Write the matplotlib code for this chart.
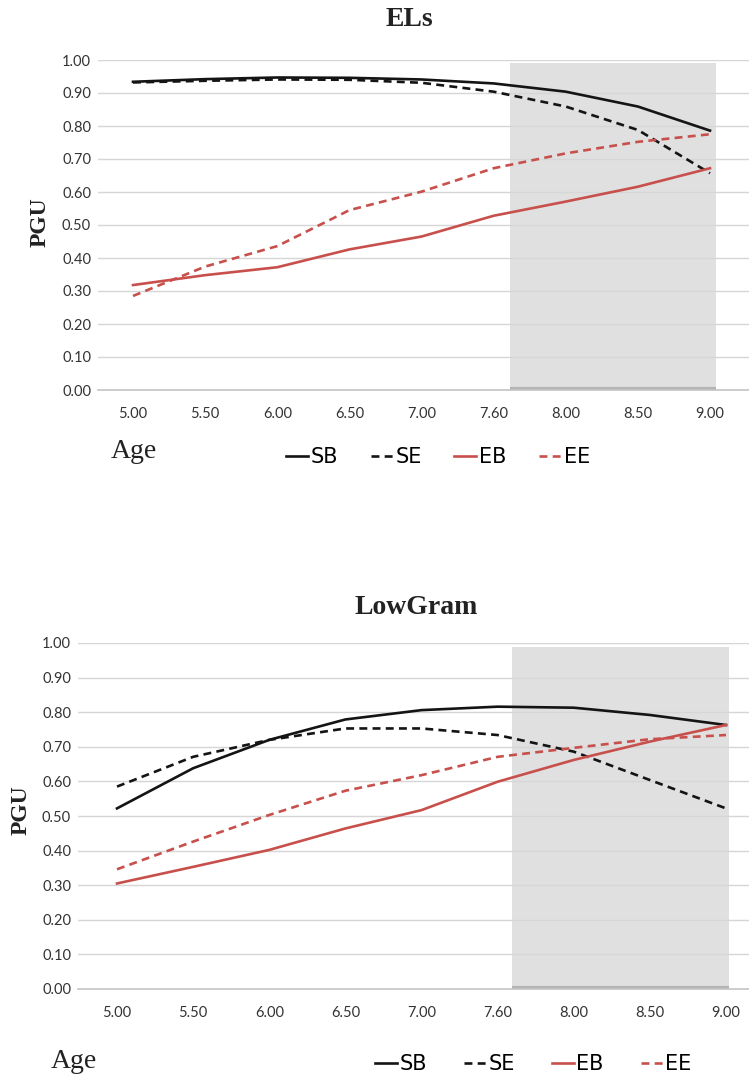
import matplotlib.pyplot as plt
from matplotlib.lines import Line2D

W, H = 749, 1077

# DATA

ages = ["5.00", "5.50", "6.00", "6.50", "7.00", "7.60", "8.00", "8.50", "9.00"]
y_ticks = [0.0, 0.1, 0.2, 0.3, 0.4, 0.5, 0.6, 0.7, 0.8, 0.9, 1.0]
series_names = ["SB", "SE", "EB", "EE"]

els_sb = [0.934, 0.942, 0.947, 0.946, 0.941, 0.929, 0.904, 0.859, 0.786]
els_se = [0.932, 0.937, 0.941, 0.940, 0.931, 0.904, 0.859, 0.788, 0.657]
els_eb = [0.318, 0.348, 0.372, 0.426, 0.465, 0.528, 0.571, 0.616, 0.672]
els_ee = [0.285, 0.374, 0.436, 0.545, 0.601, 0.672, 0.717, 0.752, 0.775]

low_sb = [0.522, 0.638, 0.720, 0.779, 0.806, 0.816, 0.813, 0.792, 0.763]
low_se = [0.585, 0.671, 0.720, 0.753, 0.753, 0.734, 0.686, 0.604, 0.522]
low_eb = [0.305, 0.353, 0.402, 0.464, 0.517, 0.599, 0.662, 0.715, 0.763]
low_ee = [0.346, 0.426, 0.503, 0.573, 0.618, 0.671, 0.697, 0.722, 0.734]

# STYLE

BLACK = "#141414"
RED = "#c8504c"
styles = {
    "SB": dict(color=BLACK, linestyle="-"),
    "SE": dict(color=BLACK, linestyle=(0, (3, 2))),
    "EB": dict(color=RED, linestyle="-"),
    "EE": dict(color=RED, linestyle=(0, (3, 2))),
}
TICK_FONT = ["Liberation Sans Narrow", "Lato", "DejaVu Sans"]
LEGEND_FONT = ["DejaVu Sans"]
SERIF = ["Liberation Serif", "DejaVu Serif"]

fig = plt.figure(figsize=(W / 100, H / 100), dpi=100)


def fx(x):
    return x / W


def fy(y):
    return 1 - y / H


def panel(box, x0, x8, band, data, title, title_xy, pgu_xy, age_xy, legend_xy, colsp):
    # box: left, right, top, bottom in pixels; x0 / x8: pixel of first / last category
    left, right, top, bottom = box
    unit = (x8 - x0) / 8
    ax = fig.add_axes([fx(left), fy(bottom), (right - left) / W, (bottom - top) / H])
    ax.set_xlim(-(x0 - left) / unit, 8 + (right - x8) / unit)
    ax.set_ylim(0, 1)

    # shaded region + darker strip on its base
    ax.axvspan(band[0], band[1], ymin=0, ymax=band[2], color="#e0e0e0", lw=0, zorder=0.5)
    ax.plot(band[:2], [0.004, 0.004], color="#b4b4b4", lw=3, zorder=0.6, solid_capstyle="butt")
    for t in y_ticks[1:]:
        ax.axhline(t, color="#d6d6d6", lw=1, zorder=1)

    x = list(range(len(ages)))
    for name, vals in zip(series_names, data):
        ax.plot(x, vals, lw=1.9, zorder=3, label=name, **styles[name])

    ax.set_xticks(x)
    ax.set_xticklabels(ages, family=TICK_FONT, fontsize=10.5, color="#333333")
    ax.set_yticks(y_ticks)
    ax.set_yticklabels([f"{t:.2f}" for t in y_ticks], family=TICK_FONT, fontsize=10.5,
                       color="#333333")
    ax.tick_params(axis="both", length=0)
    ax.tick_params(axis="x", pad=12)
    ax.tick_params(axis="y", pad=5)
    for s in ["top", "right", "left"]:
        ax.spines[s].set_visible(False)
    ax.spines["bottom"].set_color("#c4c4c4")
    ax.spines["bottom"].set_linewidth(1.2)

    fig.text(fx(title_xy[0]), fy(title_xy[1]), title, family=SERIF, fontweight="bold",
             fontsize=20, ha="center", va="center", color="#222222")
    fig.text(fx(pgu_xy[0]), fy(pgu_xy[1]), "PGU", family=SERIF, fontweight="bold",
             fontsize=17, rotation=90, ha="center", va="center", color="#222222")
    fig.text(fx(age_xy[0]), fy(age_xy[1]), "Age", family=SERIF, fontsize=20,
             ha="center", va="center", color="#222222")

    handles = [Line2D([], [], lw=1.9, **styles[n]) for n in series_names]
    fig.legend(handles, series_names, loc="center left",
               bbox_to_anchor=(fx(legend_xy[0]), fy(legend_xy[1])), ncol=4, frameon=False,
               prop=dict(family=LEGEND_FONT, size=15), handlelength=1.05,
               handletextpad=0.12, columnspacing=colsp, borderaxespad=0, borderpad=0)
    return ax


panel((98, 749, 60, 390), 133, 710, (5.23, 8.08, 0.991),
      [els_sb, els_se, els_eb, els_ee], "ELs", (409, 20),
      (40, 222), (134, 452), (286, 457), 1.58)
panel((78, 749, 643, 989), 117, 726, (5.19, 8.04, 0.988),
      [low_sb, low_se, low_eb, low_ee], "LowGram", (416, 607),
      (21, 810), (74, 1062), (375, 1064), 1.78)

fig.savefig("out.png", dpi=100)
